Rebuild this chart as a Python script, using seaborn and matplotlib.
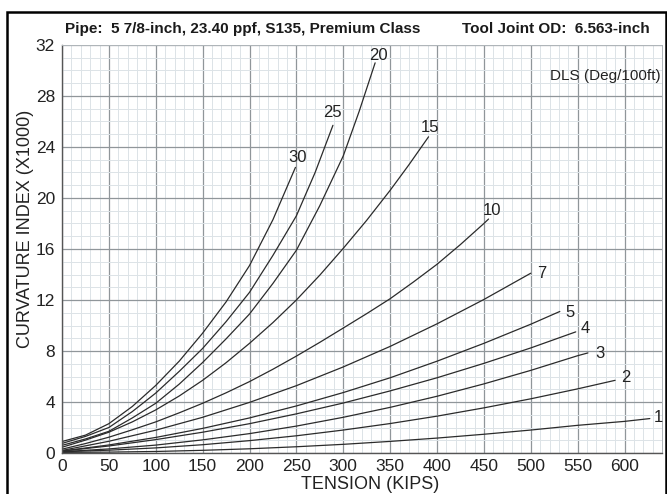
import matplotlib
matplotlib.use("Agg")
import matplotlib.pyplot as plt
import seaborn as sns
import pandas as pd
from matplotlib.patches import Rectangle
from matplotlib.ticker import MultipleLocator

# Curvature index (x1000) versus tension (kips), one curve per dogleg severity
dls_values = [1, 2, 3, 4, 5, 7, 10, 15, 20, 25, 30]

tension_dls1 = [0, 50, 100, 150, 200, 250, 300, 350, 400, 450, 500, 550, 600, 627]
ci_dls1 = [0.05, 0.07, 0.12, 0.21, 0.33, 0.49, 0.68, 0.91, 1.17, 1.47, 1.80, 2.17, 2.48, 2.70]

tension_dls2 = [0, 50, 100, 150, 200, 250, 300, 350, 400, 450, 500, 550, 590]
ci_dls2 = [0.10, 0.22, 0.40, 0.65, 0.97, 1.35, 1.80, 2.31, 2.89, 3.54, 4.25, 5.03, 5.70]

tension_dls3 = [0, 50, 100, 150, 200, 250, 300, 350, 400, 450, 500, 550, 561]
ci_dls3 = [0.10, 0.32, 0.62, 1.03, 1.52, 2.11, 2.80, 3.58, 4.45, 5.42, 6.48, 7.63, 7.85]

tension_dls4 = [0, 50, 100, 150, 200, 250, 300, 350, 400, 450, 500, 548]
ci_dls4 = [0.15, 0.55, 1.05, 1.63, 2.30, 3.07, 3.92, 4.87, 5.90, 7.03, 8.24, 9.50]

tension_dls5 = [0, 50, 100, 150, 200, 250, 300, 350, 400, 450, 500, 531]
ci_dls5 = [0.15, 0.63, 1.22, 1.93, 2.75, 3.69, 4.74, 5.90, 7.20, 8.60, 10.10, 11.10]

tension_dls7 = [0, 50, 100, 150, 200, 250, 300, 350, 400, 450, 500]
ci_dls7 = [0.20, 0.92, 1.79, 2.80, 3.97, 5.28, 6.75, 8.36, 10.13, 12.04, 14.10]

tension_dls10 = [0, 25, 50, 75, 100, 125, 150, 175, 200, 225, 250, 275, 300, 325,
                 350, 375, 400, 425, 450, 455]
ci_dls10 = [0.30, 0.74, 1.24, 1.82, 2.44, 3.15, 3.90, 4.72, 5.60, 6.57, 7.60, 8.68,
            9.80, 10.93, 12.10, 13.42, 14.80, 16.35, 18.00, 18.35]

tension_dls15 = [0, 25, 50, 75, 100, 125, 150, 175, 200, 225, 250, 275, 300, 325,
                 350, 370, 391]
ci_dls15 = [0.45, 1.01, 1.63, 2.44, 3.38, 4.47, 5.70, 7.08, 8.60, 10.23, 12.00, 13.95,
            16.05, 18.25, 20.60, 22.60, 24.80]

tension_dls20 = [0, 25, 50, 75, 100, 125, 150, 175, 200, 225, 250, 275, 300, 317, 334]
ci_dls20 = [0.60, 1.10, 1.70, 2.75, 3.90, 5.40, 7.10, 8.95, 10.90, 13.30, 15.90, 19.40,
            23.30, 26.80, 30.60]

tension_dls25 = [0, 25, 50, 75, 100, 125, 150, 175, 200, 225, 250, 270, 289]
ci_dls25 = [0.75, 1.30, 2.00, 3.25, 4.70, 6.40, 8.20, 10.30, 12.60, 15.50, 18.60, 22.00,
            25.70]

tension_dls30 = [0, 25, 50, 75, 100, 125, 150, 175, 200, 225, 249]
ci_dls30 = [0.90, 1.40, 2.30, 3.65, 5.30, 7.20, 9.40, 11.85, 14.70, 18.30, 22.40]

# Curve tags (tension, curvature index) where each DLS number is printed
tag_tension = [636, 601, 574, 558, 542, 512, 459, 393, 337, 288, 251]
tag_ci = [2.75, 5.9, 7.8, 9.8, 11.0, 14.1, 19.0, 25.5, 31.2, 26.7, 23.2]

x_ticks = list(range(0, 601, 50))
y_ticks = list(range(0, 33, 4))

title_left = "Pipe:  5 7/8-inch, 23.40 ppf, S135, Premium Class"
title_right = "Tool Joint OD:  6.563-inch"
legend_note = "DLS (Deg/100ft)"

series = [
    (1, tension_dls1, ci_dls1), (2, tension_dls2, ci_dls2), (3, tension_dls3, ci_dls3),
    (4, tension_dls4, ci_dls4), (5, tension_dls5, ci_dls5), (7, tension_dls7, ci_dls7),
    (10, tension_dls10, ci_dls10), (15, tension_dls15, ci_dls15), (20, tension_dls20, ci_dls20),
    (25, tension_dls25, ci_dls25), (30, tension_dls30, ci_dls30),
]
frames = [pd.DataFrame({"tension": t, "ci": c, "dls": d}) for d, t, c in series]
df = pd.concat(frames, ignore_index=True)

sns.set_theme(style="white")
plt.rcParams["font.family"] = ["Liberation Sans", "DejaVu Sans"]

fig = plt.figure(figsize=(6.67, 4.94), dpi=100)
ax = fig.add_axes([62 / 667, 41 / 494, 600 / 667, 408 / 494])

# graph-paper grid
ax.set_xlim(0, 640)
ax.set_ylim(0, 32)
ax.xaxis.set_major_locator(MultipleLocator(50))
ax.xaxis.set_minor_locator(MultipleLocator(10))
ax.yaxis.set_major_locator(MultipleLocator(4))
ax.yaxis.set_minor_locator(MultipleLocator(1))
ax.grid(which="minor", color="#dce3e7", linewidth=0.7)
ax.grid(which="major", color="#90969a", linewidth=0.9)
ax.set_axisbelow(True)

sns.lineplot(data=df, x="tension", y="ci", units="dls", estimator=None,
             color="#2b2b2b", linewidth=0.9, sort=False, ax=ax, legend=False)

for d, tx, ty in zip(dls_values, tag_tension, tag_ci):
    ax.text(tx, ty, str(d), fontsize=12, color="#222222", ha="center", va="center")

ax.text(638, 29.6, legend_note, fontsize=11, color="#222222", ha="right", va="center")

ax.set_xticks(x_ticks)
ax.set_yticks(y_ticks)
ax.set_xticklabels([str(v) for v in x_ticks])
ax.set_yticklabels([str(v) for v in y_ticks])
ax.tick_params(axis="both", which="both", length=0, labelsize=12.5, colors="#222222")
ax.tick_params(axis="x", pad=4)
ax.tick_params(axis="y", pad=5)

ax.set_xlabel("TENSION (KIPS)", fontsize=13, color="#222222")
ax.set_ylabel("CURVATURE INDEX (X1000)", fontsize=13, color="#222222")
ax.xaxis.set_label_coords(0.513, -0.057)
ax.yaxis.set_label_coords(-0.047, 0.55)

for side in ["left", "bottom"]:
    ax.spines[side].set_color("#555555")
    ax.spines[side].set_linewidth(1.0)
for side in ["top", "right"]:
    ax.spines[side].set_color("#b0b6ba")
    ax.spines[side].set_linewidth(0.7)

fig.text(65 / 667, 1 - 29 / 494, title_left, fontsize=11, fontweight="bold",
         color="#1a1a1a", ha="left", va="center")
fig.text(650 / 667, 1 - 29 / 494, title_right, fontsize=11, fontweight="bold",
         color="#1a1a1a", ha="right", va="center")

# black frame around the figure
fig.patches.append(Rectangle((7 / 667, -0.02), 659 / 667, (494 - 12) / 494 + 0.02,
                             transform=fig.transFigure, fill=False,
                             edgecolor="black", linewidth=1.8))

fig.savefig("out.png", dpi=100)
